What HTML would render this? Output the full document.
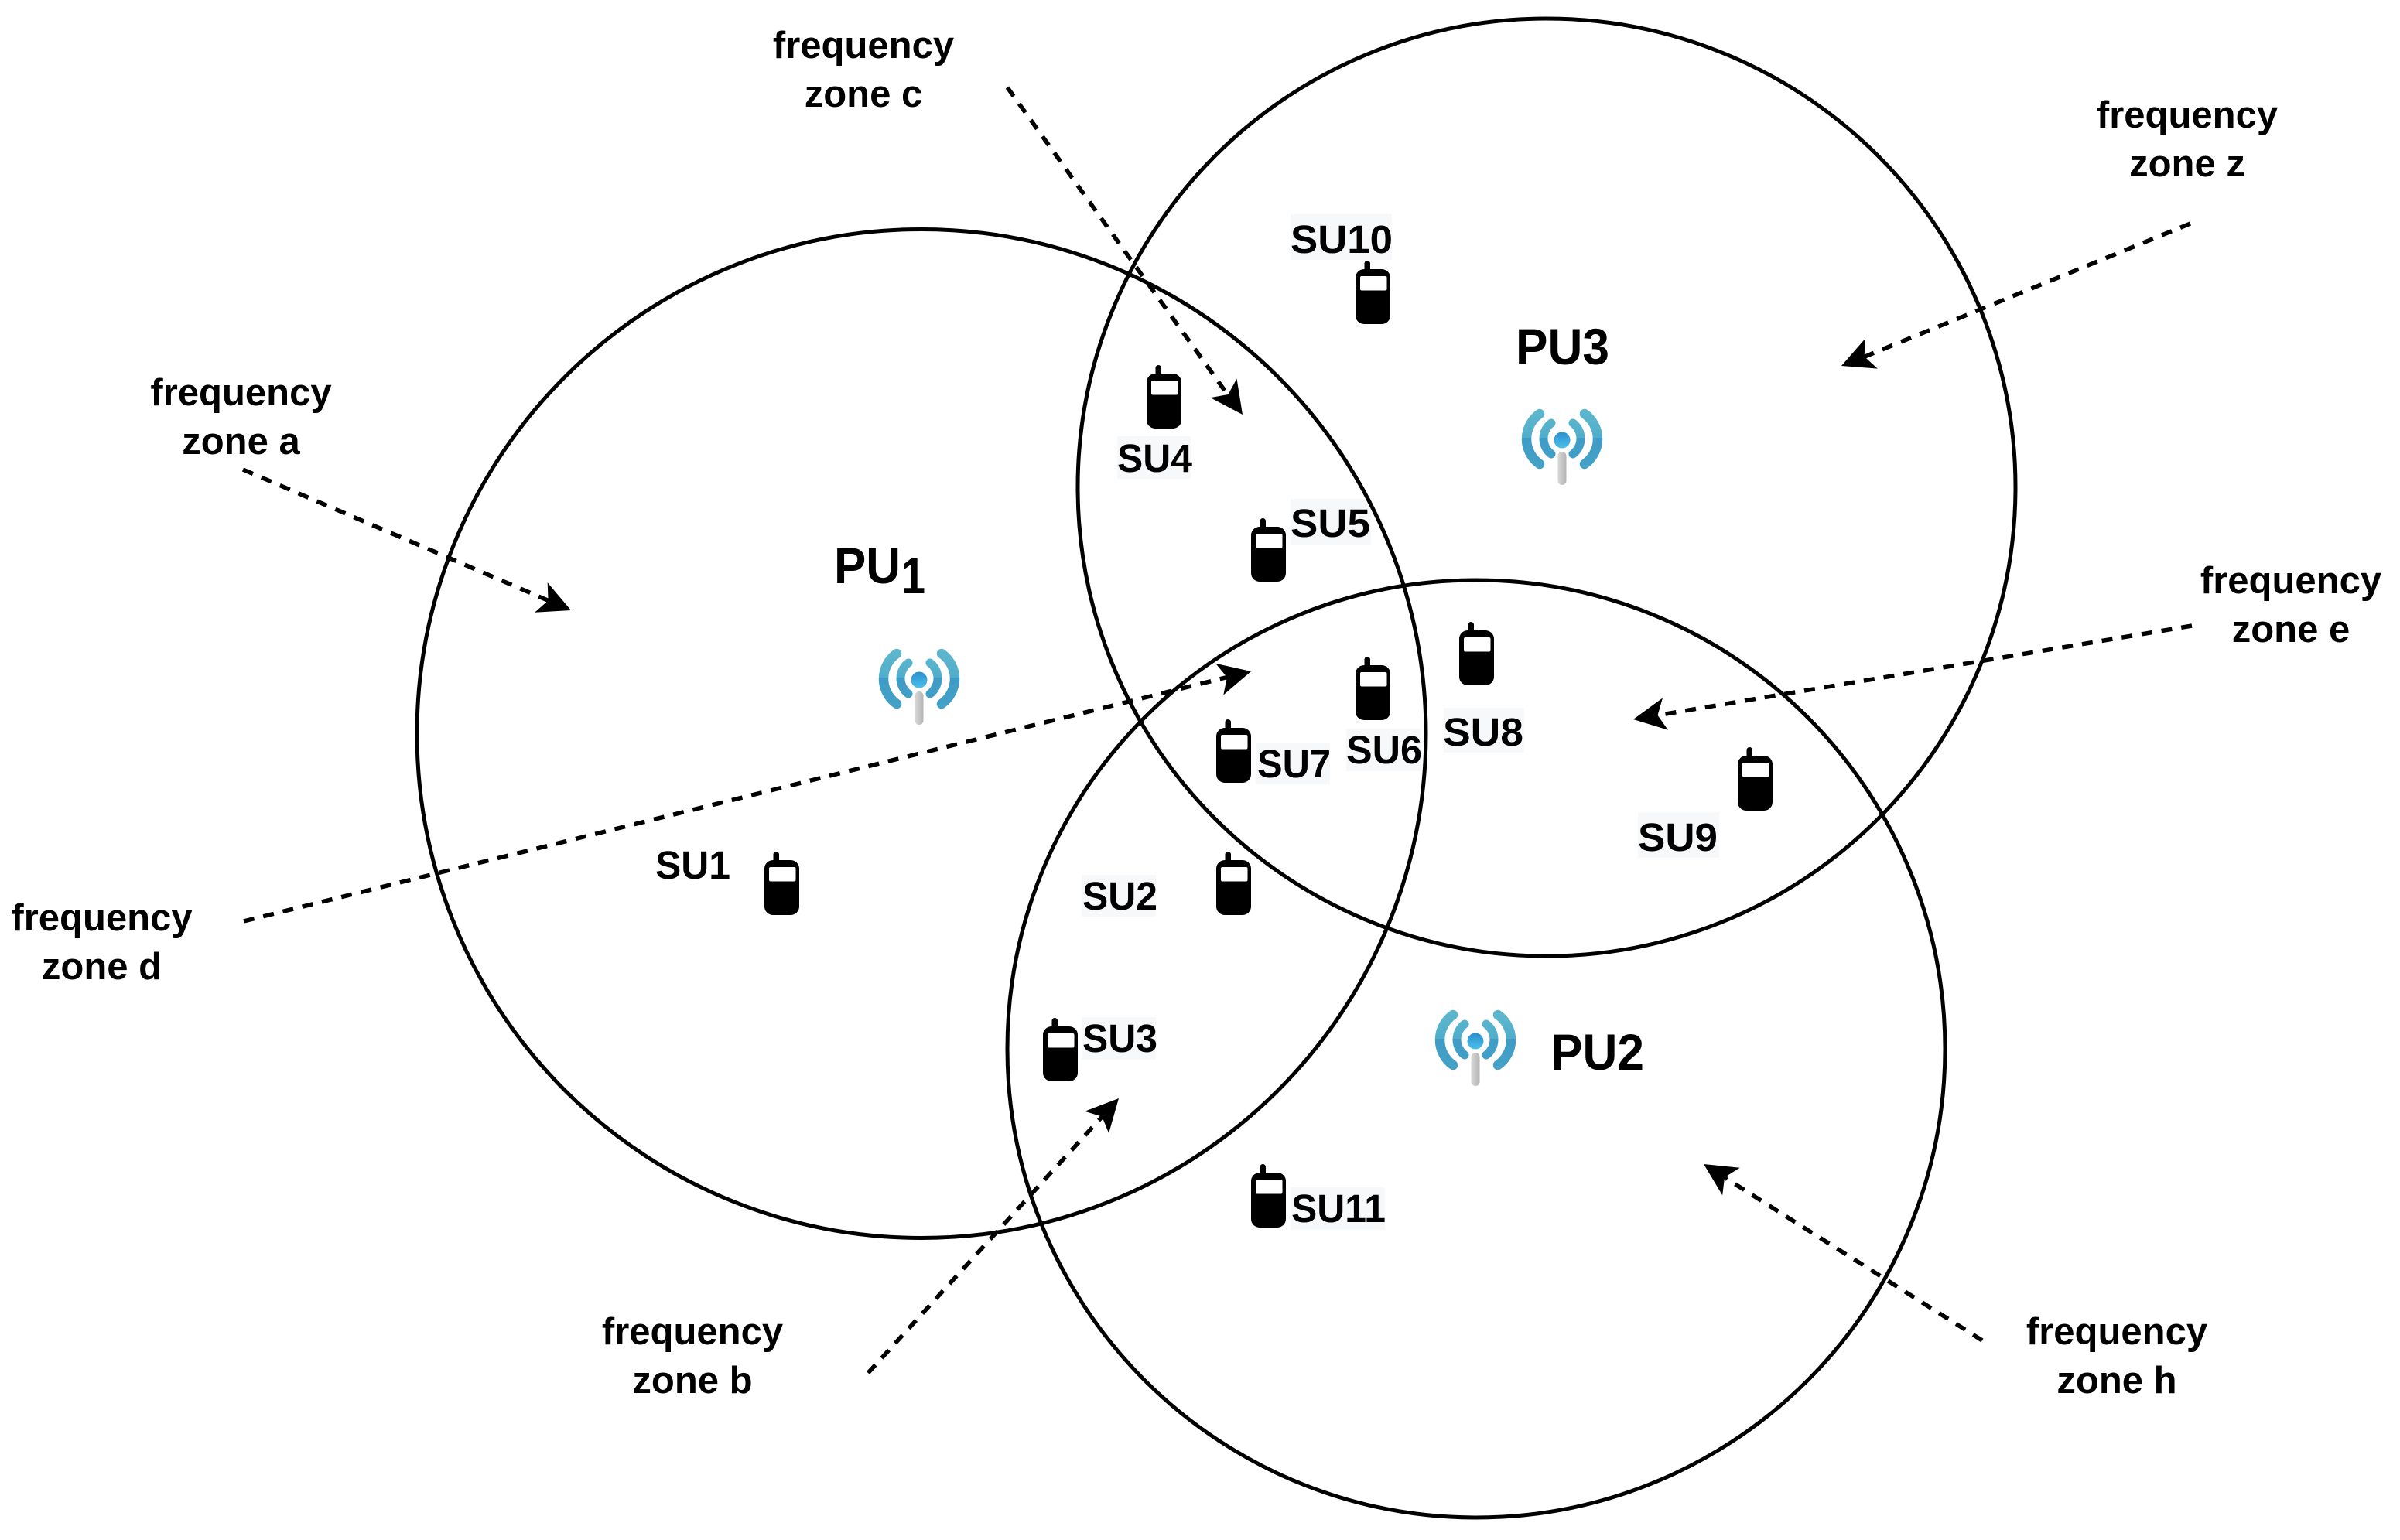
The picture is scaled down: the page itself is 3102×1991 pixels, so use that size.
<!DOCTYPE html>
<html><head><meta charset="utf-8"><style>
html,body{margin:0;padding:0;background:#fff}
svg{display:block}
text{font-family:"Liberation Sans",sans-serif;font-weight:bold;fill:#000}
.f{font-size:49px;text-anchor:middle}
.s{font-size:51px}
.p{font-size:66px}
.c{fill:none;stroke:#000;stroke-width:5}
.d{fill:none;stroke:#000;stroke-width:5.5;stroke-dasharray:14 12}
.b{fill:#f7f8fa}
</style></head><body>
<svg width="3102" height="1991" viewBox="0 0 3102 1991" xmlns="http://www.w3.org/2000/svg">
<defs>
<g id="ph"><rect x="11.5" y="-11" width="7.5" height="20" rx="3.7" fill="#000"/><rect x="0" y="0" width="45" height="71" rx="11" fill="#000"/><rect x="6" y="9" width="34.500" height="18.500" rx="2" fill="#fff"/></g>
<linearGradient id="ag" gradientUnits="userSpaceOnUse" x1="0" y1="-40" x2="0" y2="40"><stop offset="0" stop-color="#5fb7cd"/><stop offset=".46" stop-color="#50aecb"/><stop offset=".46" stop-color="#3d9bc6"/><stop offset="1" stop-color="#45a3c8"/></linearGradient>
<linearGradient id="dg" x1="0" y1="0" x2="0" y2="1"><stop offset="0" stop-color="#2a8fce"/><stop offset="1" stop-color="#4cc0ec"/></linearGradient>
<linearGradient id="pg" x1="0" y1="0" x2="1" y2="0"><stop offset="0" stop-color="#d8d8d8"/><stop offset="1" stop-color="#b4b4b4"/></linearGradient>
<g id="an">
<path d="M-29 -34A39.600 39.600 0 0 0 -29 31M29 -34A39.600 39.600 0 0 1 29 31" fill="none" stroke="url(#ag)" stroke-width="12.500" stroke-linecap="round"/>
<path d="M-14 -22A25 25 0 0 0 -14 18M14 -22A25 25 0 0 1 14 18" fill="none" stroke="url(#ag)" stroke-width="11" stroke-linecap="round"/>
<circle cx="0" cy="0" r="10.500" fill="url(#dg)"/>
<rect x="-5.500" y="15" width="11" height="43" rx="5.500" fill="url(#pg)"/>
</g>
<path id="ah" d="M0 0L-42 -21L-32 0L-42 21Z" fill="#000"/>
</defs>
<rect class="b" x="1668" y="277" width="131" height="59"/>
<rect class="b" x="1444" y="564" width="95" height="55"/>
<rect class="b" x="1668" y="645" width="104" height="59"/>
<rect class="b" x="1740" y="942" width="96" height="55"/>
<rect class="b" x="1623" y="960" width="96" height="54"/>
<rect class="b" x="1866" y="915" width="104" height="58"/>
<rect class="b" x="2117" y="1050" width="105" height="59"/>
<rect class="b" x="1398" y="1131" width="96" height="54"/>
<rect class="b" x="1398" y="1315" width="96" height="55"/>
<rect class="b" x="1668" y="1535" width="122" height="55"/>

<circle class="c" cx="1191" cy="948.500" r="652"/>
<circle class="c" cx="1999" cy="630" r="606"/>
<circle class="c" cx="1908" cy="1356" r="606"/>

<path class="d" d="M314 607L710 777"/>
<use href="#ah" transform="translate(738 789) rotate(23.200)"/>
<path class="d" d="M1302 113L1588 512"/>
<use href="#ah" transform="translate(1606 536) rotate(54.300)"/>
<path class="d" d="M2831 289L2408 462"/>
<use href="#ah" transform="translate(2380 473) rotate(157.800)"/>
<path class="d" d="M2833 809L2141 925"/>
<use href="#ah" transform="translate(2111 930) rotate(170.500)"/>
<path class="d" d="M315 1191L1588 875"/>
<use href="#ah" transform="translate(1617 868) rotate(-13.900)"/>
<path class="d" d="M1122 1775L1426 1442"/>
<use href="#ah" transform="translate(1446 1420) rotate(-47.500)"/>
<path class="d" d="M2562 1733L2227 1521"/>
<use href="#ah" transform="translate(2202 1505) rotate(-147.600)"/>

<use href="#an" x="1188" y="879"/>
<use href="#an" x="2019" y="569"/>
<use href="#an" x="1907" y="1346"/>

<use href="#ph" x="1752" y="348"/>
<use href="#ph" x="1482" y="483"/>
<use href="#ph" x="1617" y="681"/>
<use href="#ph" x="1752" y="860"/>
<use href="#ph" x="1572" y="941"/>
<use href="#ph" x="1886" y="815"/>
<use href="#ph" x="2246" y="977"/>
<use href="#ph" x="1572" y="1112"/>
<use href="#ph" x="988" y="1112"/>
<use href="#ph" x="1348" y="1327"/>
<use href="#ph" x="1617" y="1516"/>

<text class="s" x="1668" y="327" textLength="132" lengthAdjust="spacingAndGlyphs">SU10</text>
<text class="s" x="1444" y="610" textLength="97" lengthAdjust="spacingAndGlyphs">SU4</text>
<text class="s" x="1668" y="694" textLength="103" lengthAdjust="spacingAndGlyphs">SU5</text>
<text class="s" x="1740" y="987" textLength="98" lengthAdjust="spacingAndGlyphs">SU6</text>
<text class="s" x="1625" y="1005" textLength="95" lengthAdjust="spacingAndGlyphs">SU7</text>
<text class="s" x="1865" y="964" textLength="104" lengthAdjust="spacingAndGlyphs">SU8</text>
<text class="s" x="2117" y="1100" textLength="103" lengthAdjust="spacingAndGlyphs">SU9</text>
<text class="s" x="1399" y="1176" textLength="97" lengthAdjust="spacingAndGlyphs">SU2</text>
<text class="s" x="847" y="1136" textLength="97" lengthAdjust="spacingAndGlyphs">SU1</text>
<text class="s" x="1399" y="1360" textLength="97" lengthAdjust="spacingAndGlyphs">SU3</text>
<text class="s" x="1669" y="1580" textLength="122" lengthAdjust="spacingAndGlyphs">SU11</text>

<text class="p" x="1078" y="754" textLength="86" lengthAdjust="spacingAndGlyphs">PU</text>
<text class="p" x="1165" y="767" textLength="31" lengthAdjust="spacingAndGlyphs">1</text>
<text class="p" x="1959" y="471" textLength="121" lengthAdjust="spacingAndGlyphs">PU3</text>
<text class="p" x="2004" y="1383" textLength="121" lengthAdjust="spacingAndGlyphs">PU2</text>

<text class="f" x="311.500" y="524">frequency</text><text class="f" x="311.500" y="587">zone a</text>
<text class="f" x="1116" y="75">frequency</text><text class="f" x="1116" y="138">zone c</text>
<text class="f" x="2827" y="165">frequency</text><text class="f" x="2827" y="228">zone z</text>
<text class="f" x="2961" y="767">frequency</text><text class="f" x="2961" y="830">zone e</text>
<text class="f" x="131.500" y="1203">frequency</text><text class="f" x="131.500" y="1266">zone d</text>
<text class="f" x="895" y="1738">frequency</text><text class="f" x="895" y="1801">zone b</text>
<text class="f" x="2736" y="1738">frequency</text><text class="f" x="2736" y="1801">zone h</text>
</svg>
</body></html>
